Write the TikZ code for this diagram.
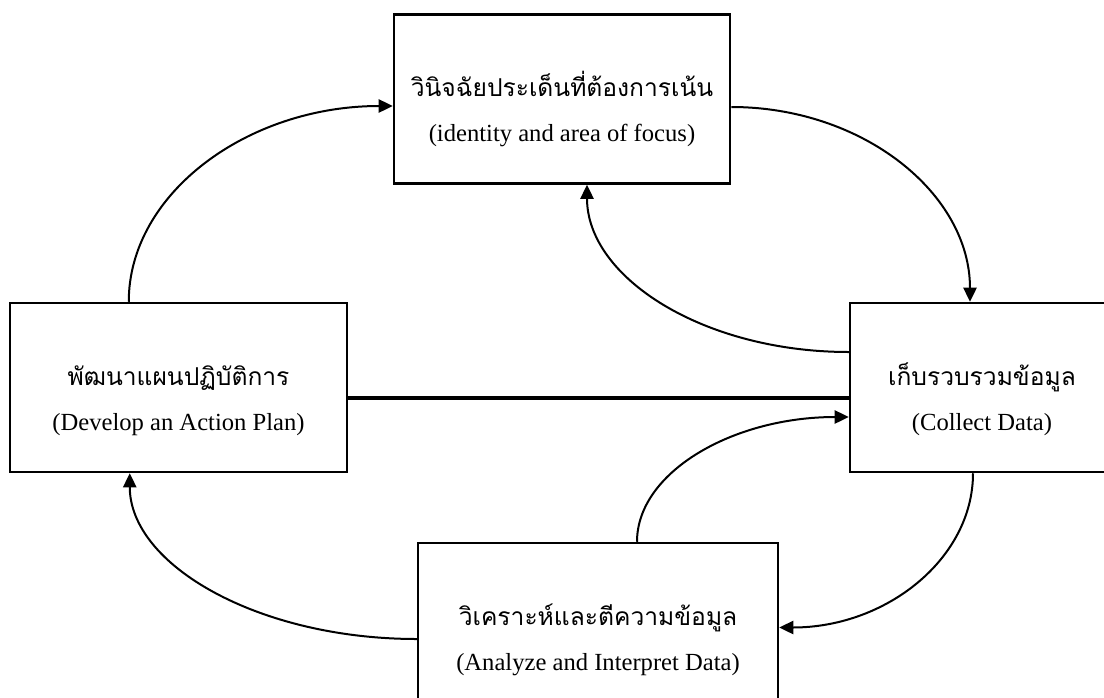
\documentclass[tikz,border=0pt]{standalone}
\usepackage{fontspec}
\setmainfont{Liberation Serif}
\newfontfamily\thaifont[Script=Thai]{Loma}
\usetikzlibrary{arrows.meta}
\tikzset{
	stepbox/.style={draw, line width=0.5mm, minimum height=3.38cm, align=center, inner sep=0pt, font=\fontsize{14}{25.5}\selectfont},
	flow/.style={line width=0.4mm, -{Triangle[length=8pt,width=7.5pt]}}
}
\newcommand{\thline}[1]{\rule{0pt}{26pt}{\thaifont\fontsize{14}{25.5}\selectfont #1}}

\begin{document}
\begin{tikzpicture}
			%%%%% START %%%%%
			
			\clip (0, 0) rectangle (22.08, -13.94);
			\useasboundingbox (0, 0) rectangle (22.08, -13.94);
			
			\node[stepbox, minimum width=6.72cm] (focus) at (11.24, -1.98) {\thline{วินิจฉัยประเด็นที่ต้องการเน้น}\\(identity and area of focus)};
			\node[stepbox, minimum width=6.74cm] (plan) at (3.57, -7.75) {\thline{พัฒนาแผนปฏิบัติการ}\\(Develop an Action Plan)};
			\node[stepbox, minimum width=5.28cm] (collect) at (19.64, -7.75) {\thline{เก็บรวบรวมข้อมูล}\\(Collect Data)};
			\node[stepbox, minimum width=7.2cm] (analyze) at (11.96, -12.55) {\thline{วิเคราะห์และตีความข้อมูล}\\(Analyze and Interpret Data)};
			
			\draw[line width=0.7mm] ([yshift=-0.21cm]plan.east) -- ([yshift=-0.21cm]collect.west);
			
			\draw[flow] ([xshift=2.4cm]plan.north west) .. controls +(0, 2.17) and +(-2.9, 0) .. ([yshift=-0.14cm]focus.west);
			\draw[flow] ([yshift=-0.16cm]focus.east) .. controls +(2.64, 0) and +(0, 2.16) .. ([xshift=-0.24cm]collect.north);
			\draw[flow] ([yshift=0.71cm]collect.west) .. controls +(-2.9, 0) and +(0, -1.86) .. ([xshift=0.5cm]focus.south);
			\draw[flow] ([xshift=-0.18cm]collect.south) .. controls +(0, -1.7) and +(2.15, 0) .. (analyze.east);
			\draw[flow] ([xshift=0.78cm]analyze.north) .. controls +(0, 1.39) and +(-2.32, 0) .. ([yshift=-0.59cm]collect.west);
			\draw[flow] ([yshift=-0.23cm]analyze.west) .. controls +(-3.16, 0) and +(0, -1.84) .. ([xshift=2.42cm]plan.south west);
			
			%%%%% END %%%%%
\end{tikzpicture}
\end{document}
